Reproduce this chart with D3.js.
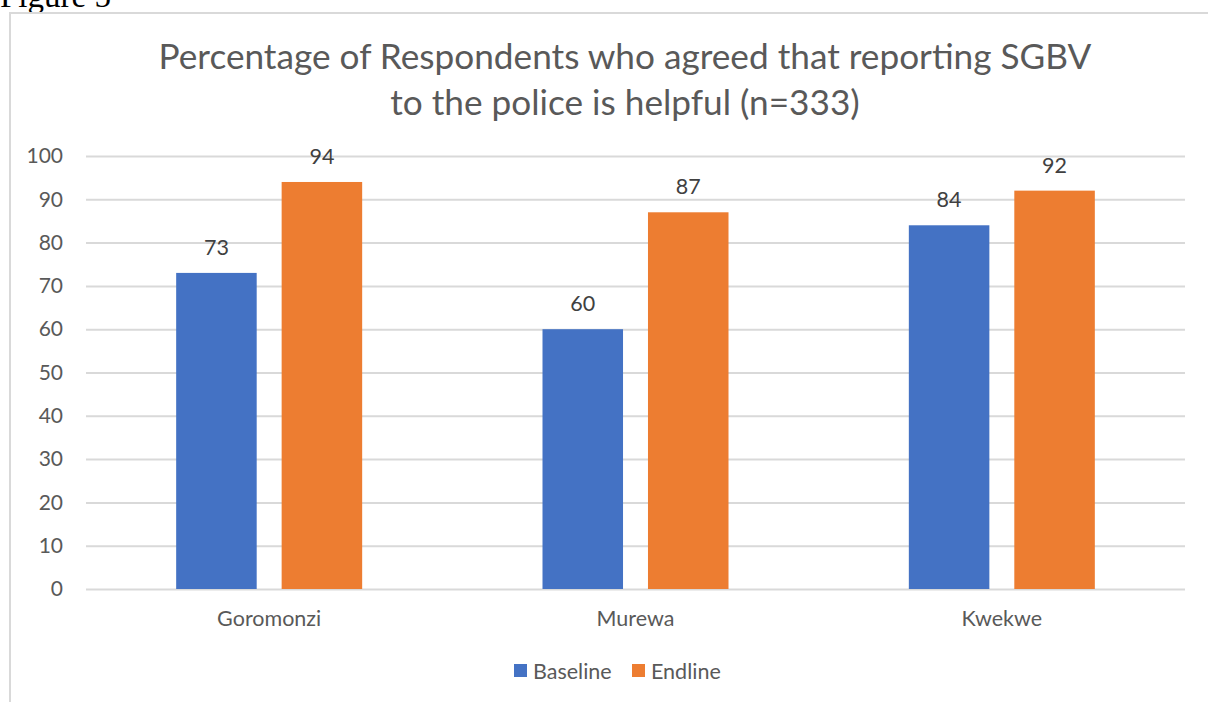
<!DOCTYPE html>
<html>
<head>
<meta charset="utf-8">
<script src="https://cdn.jsdelivr.net/npm/d3@7"></script>
<style>
  html, body { margin: 0; padding: 0; background: #fff; }
  svg { display: block; }
</style>
</head>
<body>
<svg id="chart" width="1208" height="702"></svg>
<script>
// Chart data
const districts = ["Goromonzi", "Murewa", "Kwekwe"];
const seriesNames = ["Baseline", "Endline"];
const baseline = [73, 60, 84];
const endline = [94, 87, 92];
const yTicks = [0, 10, 20, 30, 40, 50, 60, 70, 80, 90, 100];
const titleLines = ["Percentage of Respondents who agreed that reporting SGBV", "to the police is helpful (n=333)"];

const colors = ["#4472C4", "#ED7D31"];
const font = "Lato, 'Open Sans', sans-serif";

const svg = d3.select("#chart");

// Caption above the chart frame
svg.append("text")
  .attr("x", 0).attr("y", 7)
  .attr("font-family", "'Liberation Serif', 'Times New Roman', serif")
  .attr("font-size", 33)
  .attr("fill", "#000")
  .text("Figure 5");

// Chart frame
svg.append("rect")
  .attr("x", 10).attr("y", 13)
  .attr("width", 1300).attr("height", 800)
  .attr("fill", "none")
  .attr("stroke", "#d9d9d9")
  .attr("stroke-width", 2);

// Title
svg.append("g").selectAll("text")
  .data(titleLines)
  .join("text")
  .attr("x", 625)
  .attr("y", (d, i) => 69 + i * 46)
  .attr("text-anchor", "middle")
  .attr("font-family", font)
  .attr("font-size", 35.2)
  .attr("fill", "#595959")
  .text(d => d);

const plot = { left: 86, right: 1185, top: 156, bottom: 589 };

const x0 = d3.scaleBand()
  .domain(districts)
  .range([plot.left, plot.right])
  .paddingInner(0)
  .paddingOuter(0);

const x1 = d3.scaleBand()
  .domain(seriesNames)
  .range([x0.bandwidth() / 2 - 93, x0.bandwidth() / 2 + 93])
  .paddingInner(22 / 186 * 2)
  .paddingOuter(0);

const y = d3.scaleLinear()
  .domain([0, 100])
  .range([plot.bottom, plot.top]);

// Gridlines and value axis labels
const yAxis = d3.axisLeft(y)
  .tickValues(yTicks)
  .tickSize(-(plot.right - plot.left))
  .tickPadding(23);

const gy = svg.append("g")
  .attr("transform", `translate(${plot.left},0)`)
  .call(yAxis);
gy.select(".domain").remove();
gy.selectAll(".tick line")
  .attr("stroke", "#d9d9d9")
  .attr("stroke-width", 2);
gy.selectAll(".tick text")
  .attr("font-family", font)
  .attr("font-size", 21)
  .attr("fill", "#595959");

// Category axis labels
const xAxis = d3.axisBottom(x0).tickSize(0).tickPadding(22);
const gx = svg.append("g")
  .attr("transform", `translate(0,${plot.bottom})`)
  .call(xAxis);
gx.select(".domain").remove();
gx.selectAll(".tick text")
  .attr("font-family", font)
  .attr("font-size", 21.5)
  .attr("fill", "#595959");

// Bars
const rows = districts.map((d, i) => ({
  district: d,
  values: [
    { series: "Baseline", value: baseline[i] },
    { series: "Endline", value: endline[i] }
  ]
}));

const groups = svg.append("g").selectAll("g")
  .data(rows)
  .join("g")
  .attr("transform", d => `translate(${x0(d.district)},0)`);

groups.selectAll("rect")
  .data(d => d.values)
  .join("rect")
  .attr("x", d => x1(d.series))
  .attr("y", d => y(d.value))
  .attr("width", x1.bandwidth())
  .attr("height", d => y(0) - y(d.value))
  .attr("fill", d => colors[seriesNames.indexOf(d.series)]);

// Value labels
groups.selectAll("text")
  .data(d => d.values)
  .join("text")
  .attr("x", d => x1(d.series) + x1.bandwidth() / 2)
  .attr("y", d => y(d.value) - 18)
  .attr("text-anchor", "middle")
  .attr("font-family", font)
  .attr("font-size", 21.5)
  .attr("fill", "#404040")
  .text(d => d.value);

// Legend
const legend = svg.append("g").attr("transform", "translate(514,0)");
const items = legend.selectAll("g")
  .data(seriesNames)
  .join("g")
  .attr("transform", (d, i) => `translate(${i * 118},0)`);
items.append("rect")
  .attr("x", 0).attr("y", 664)
  .attr("width", 13).attr("height", 13)
  .attr("fill", (d, i) => colors[i]);
items.append("text")
  .attr("x", 19).attr("y", 679)
  .attr("font-family", font)
  .attr("font-size", 21.5)
  .attr("fill", "#595959")
  .text(d => d);
</script>
</body>
</html>
